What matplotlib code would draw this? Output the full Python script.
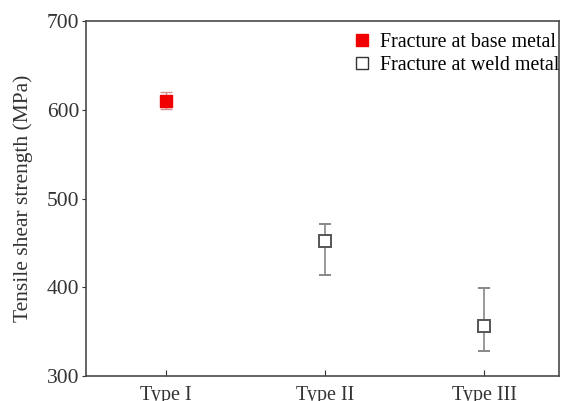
import numpy as np
import matplotlib.pyplot as plt

plt.rcParams['font.family'] = ['Liberation Serif', 'DejaVu Serif']

types = ["Type I", "Type II", "Type III"]
strength = [610, 452, 356]
err_low = [9, 38, 28]
err_high = [10, 19, 43]
base_fracture = [True, False, False]

fig = plt.figure(figsize=(5.63, 4.01), dpi=100)
ax = fig.add_axes([0.1528, 0.0623, 0.8401, 0.8853])

x = np.arange(1, len(types) + 1)
for i in range(len(types)):
    if base_fracture[i]:
        ax.errorbar(x[i], strength[i], yerr=[[err_low[i]], [err_high[i]]],
                    fmt='s', color='#f00000', mec='#f00000', ms=8,
                    ecolor='#d09090', elinewidth=1, capsize=4, capthick=1)
    else:
        ax.errorbar(x[i], strength[i], yerr=[[err_low[i]], [err_high[i]]],
                    fmt='s', mfc='white', mec='#555555', mew=1.4, ms=8,
                    ecolor='#888888', elinewidth=1.2, capsize=4, capthick=1, zorder=3)

# legend entries
ax.plot([], [], 's', color='#f00000', ms=8, label='Fracture at base metal')
ax.plot([], [], 's', mfc='white', mec='#333333', mew=1, ms=8, label='Fracture at weld metal')
ax.legend(loc='upper right', bbox_to_anchor=(1.018, 0.99), frameon=False,
          fontsize=14.4, handletextpad=0.4, labelspacing=0.2, borderaxespad=0,
          handlelength=1.0)

ax.set_xlim(0.5, 3.47)
ax.set_ylim(300, 700)
ax.set_yticks([300, 400, 500, 600, 700])
ax.set_xticks(x)
ax.set_xticklabels(types)
ax.tick_params(axis='y', direction='out', length=3, pad=2, labelsize=15.5, colors='#333333')
ax.tick_params(axis='x', direction='in', length=4, pad=7, labelsize=14.5, colors='#333333')
ax.set_ylabel('Tensile shear strength (MPa)', fontsize=15.5, color='#333333', labelpad=10)
for s in ax.spines.values():
    s.set_color('#4a4a4a')
    s.set_linewidth(1.2)

fig.savefig('out.png', dpi=100)
